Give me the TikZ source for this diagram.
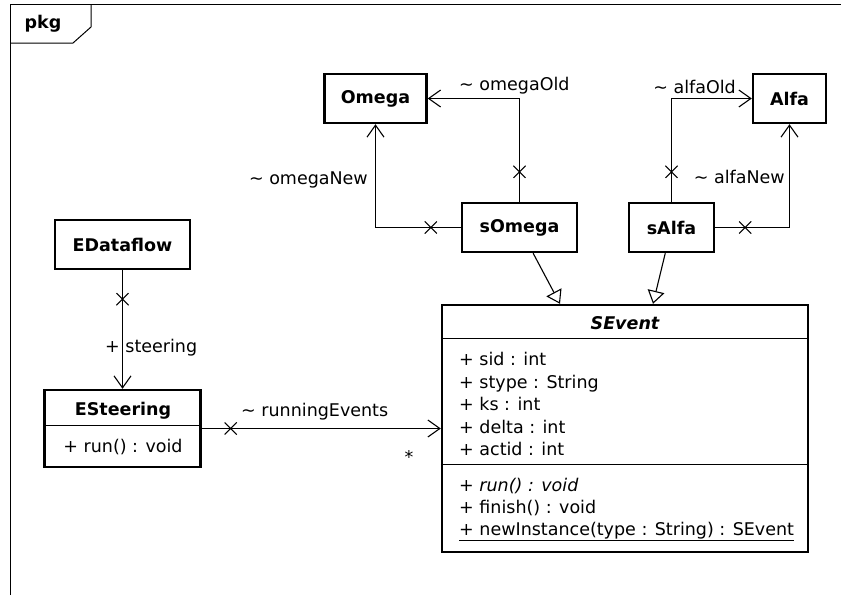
\documentclass[tikz,border=0pt]{standalone}
\usepackage{fontspec}
\setmainfont{DejaVu Sans}
\usetikzlibrary{arrows.meta}
\usetikzlibrary{calc}
\usetikzlibrary{positioning}
\usetikzlibrary{shapes.misc}
\newcommand{\umlfont}{\fontsize{17.5}{21}\selectfont}
\tikzset{cls/.style = {draw, line width = 2.4, fill = white, inner sep = 0, minimum height = 49,
                       font = \umlfont\bfseries}}
\tikzset{member/.style = {anchor = base west, inner sep = 0, font = \umlfont}}
\tikzset{lbl/.style = {inner sep = 0, font = \umlfont}}
\tikzset{assoc/.style = {line width = 1.1, -{Straight Barb[length = 12pt, width = 17pt, line width = 1.1pt]}}}
\tikzset{inherit/.style = {line width = 1.1, -{Triangle[open, length = 13pt, width = 17pt, line width = 1.1pt]}}}
\tikzset{xmark/.style = {draw, cross out, line width = 1.1, inner sep = 0, minimum size = 11}}

\begin{document}
\begin{tikzpicture}[x = 1pt, y = -1pt]
    \useasboundingbox (0, 0) rectangle (841, 595);
    % package frame
    \draw [line width = 1] (10, 595) -- (10, 4) -- (841, 4);
    \draw [line width = 1] (10, 43) -- (73, 43) -- (91, 27) -- (91, 4);
    \node [lbl, font = \umlfont\bfseries] (pkg) at (43, 24) {pkg};

    % classes
    \node [cls, minimum width = 102] (Omega) at (375.5, 98.5) {Omega};
    \node [cls, minimum width = 73] (Alfa) at (789.5, 98.5) {Alfa};
    \node [cls, minimum width = 115] (sOmega) at (519.5, 227.5) {sOmega};
    \node [cls, minimum width = 85] (sAlfa) at (671.5, 227.5) {sAlfa};
    \node [cls, minimum width = 135] (EDataflow) at (122.5, 244.5) {EDataflow};
    \node [cls, minimum width = 156, minimum height = 77] (ESteering) at (122.5, 428.5) {};
    \node [cls, minimum width = 366, minimum height = 247] (SEvent) at (625, 428.5) {};

    \node [lbl, font = \umlfont\bfseries, anchor = base] (ESteeringName) at (123, 415) {ESteering};
    \draw [line width = 1.1] ($(ESteering.north west) + (0, 37)$) -- ($(ESteering.north east) + (0, 37)$);
    \node [lbl, anchor = base] (ESteeringOp) at (123, 452) {+ run() : void};

    \node [lbl, font = \umlfont\bfseries\itshape, anchor = base] (SEventName) at (625, 329) {SEvent};
    \draw [line width = 1.1] ($(SEvent.north west) + (0, 35)$) -- ($(SEvent.north east) + (0, 35)$);
    \draw [line width = 1.1] ($(SEvent.north west) + (0, 161)$) -- ($(SEvent.north east) + (0, 161)$);
    \foreach \txt [count = \i] in {+ sid : int, + stype : String, + ks : int, + delta : int, + actid : int}
        \node [member] (attr\i) at (459, 343 + 22.5 * \i) {\txt};
    \node [member, font = \umlfont\itshape] (op1) at (459, 491) {+ run() : void};
    \node [member] (op2) at (459, 513) {+ finish() : void};
    \node [member] (op3) at (459, 535) {\underline{+ newInstance(type : String) : SEvent}};

    % associations
    \draw [assoc] (sOmega.north) |- (Omega.east);
    \draw [assoc] (sOmega.west) -| (Omega.south);
    \draw [assoc] (sAlfa.north) |- (Alfa.west);
    \draw [assoc] (sAlfa.east) -| (Alfa.south);
    \draw [assoc] (EDataflow.south) -- (ESteering.north);
    \draw [assoc] (ESteering.east) -- (SEvent.west);

    \node [xmark] (xOmegaOld) at ($(sOmega.north) + (0, -30)$) {};
    \node [xmark] (xOmegaNew) at ($(sOmega.west) + (-30, 0)$) {};
    \node [xmark] (xAlfaOld) at ($(sAlfa.north) + (0, -30)$) {};
    \node [xmark] (xAlfaNew) at ($(sAlfa.east) + (30, 0)$) {};
    \node [xmark] (xSteering) at ($(EDataflow.south) + (0, 29)$) {};
    \node [xmark] (xRunning) at ($(ESteering.east) + (29, 0)$) {};

    \node [lbl, anchor = west] (lOmegaOld) at (459, 86) {\textasciitilde\ omegaOld};
    \node [lbl, anchor = east] (lOmegaNew) at (368, 180) {\textasciitilde\ omegaNew};
    \node [lbl, anchor = east] (lAlfaOld) at (736, 87) {\textasciitilde\ alfaOld};
    \node [lbl, anchor = east] (lAlfaNew) at (785, 177) {\textasciitilde\ alfaNew};
    \node [lbl, anchor = west] (lSteering) at (105, 348) {+ steering};
    \node [lbl, anchor = west] (lRunning) at (241, 412) {\textasciitilde\ runningEvents};
    \node [lbl] (mRunning) at (409, 457) {*};

    % generalizations
    \draw [inherit] (sOmega) -- ($(SEvent.north) + (-65, 0)$);
    \draw [inherit] (sAlfa) -- ($(SEvent.north) + (28, 0)$);
  \end{tikzpicture}
\end{document}
